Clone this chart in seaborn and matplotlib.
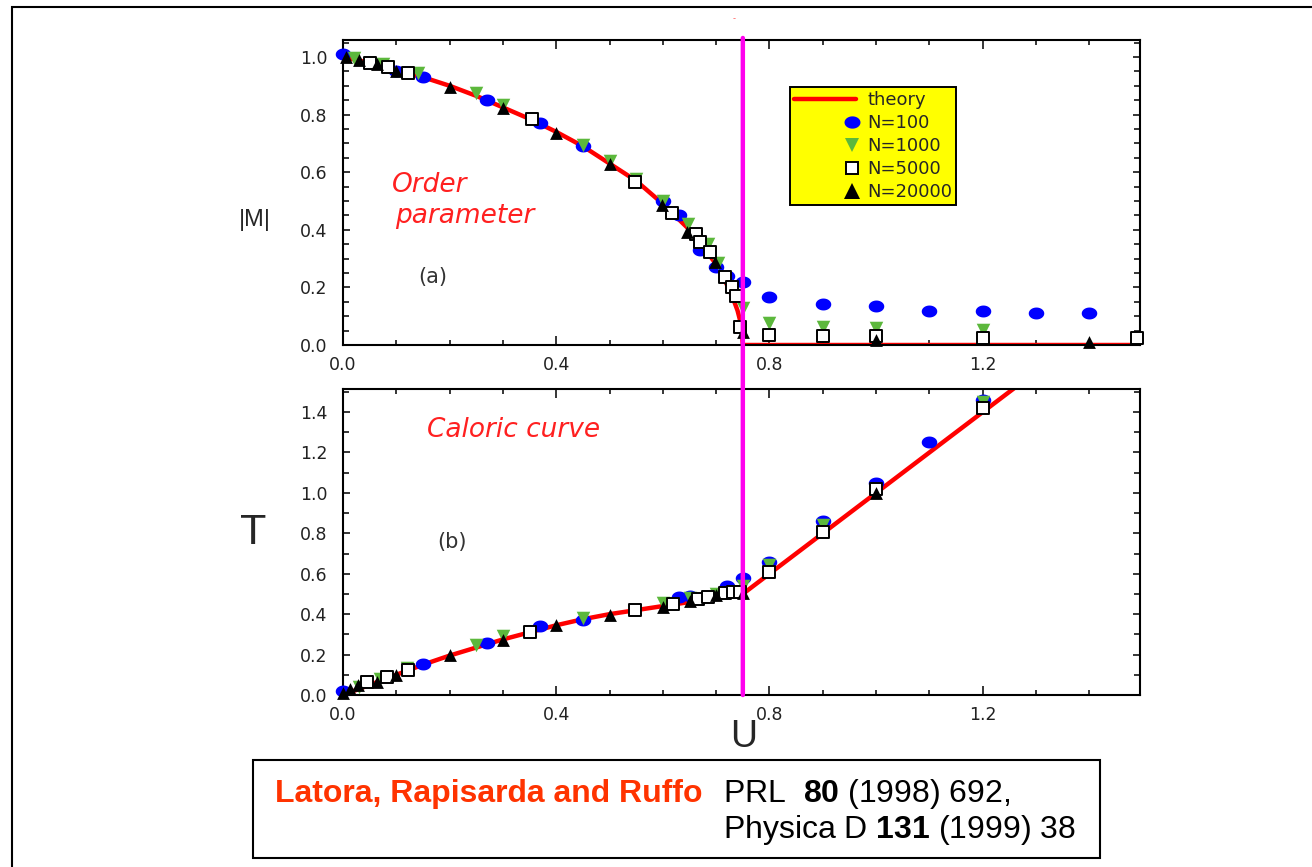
import numpy as np
import pandas as pd
import matplotlib
matplotlib.use("Agg")
import matplotlib.pyplot as plt
import seaborn as sns
from matplotlib.path import Path
from matplotlib.lines import Line2D
from matplotlib.patches import Rectangle, ConnectionPatch
from matplotlib.legend_handler import HandlerLine2DCompound
from matplotlib.ticker import MultipleLocator, FormatStrFormatter

# ---------------- data ----------------
# (a) order parameter |M| vs U
theory_M_U = [0.0, 0.05, 0.1, 0.15, 0.2, 0.25, 0.3, 0.35, 0.4, 0.45, 0.5, 0.55, 0.6,
              0.65, 0.68, 0.7, 0.72, 0.73, 0.74, 0.747, 0.75, 1.5]
theory_M = [1.0, 0.98, 0.95, 0.93, 0.90, 0.865, 0.825, 0.785, 0.74, 0.69, 0.63, 0.57, 0.49,
            0.40, 0.33, 0.28, 0.21, 0.17, 0.12, 0.07, 0.0, 0.0]

n100_M_U = [0.0, 0.05, 0.1, 0.15, 0.27, 0.37, 0.45, 0.6, 0.63, 0.67, 0.7, 0.72, 0.75,
            0.8, 0.9, 1.0, 1.1, 1.2, 1.3, 1.4]
n100_M = [1.01, 0.98, 0.95, 0.93, 0.85, 0.77, 0.69, 0.50, 0.45, 0.33, 0.27, 0.24, 0.22,
          0.167, 0.142, 0.135, 0.118, 0.118, 0.11, 0.11]

n1000_M_U = [0.02, 0.075, 0.14, 0.25, 0.30, 0.45, 0.50, 0.55, 0.60, 0.647, 0.685, 0.703,
             0.75, 0.8, 0.9, 1.0, 1.2]
n1000_M = [0.995, 0.975, 0.945, 0.875, 0.835, 0.695, 0.64, 0.575, 0.50, 0.42, 0.35, 0.284,
           0.13, 0.077, 0.063, 0.06, 0.052]

n5000_M_U = [0.05, 0.085, 0.122, 0.354, 0.548, 0.617, 0.663, 0.67, 0.688, 0.716, 0.729,
             0.738, 0.745, 0.8, 0.9, 1.0, 1.2, 1.49]
n5000_M = [0.98, 0.965, 0.945, 0.785, 0.566, 0.458, 0.385, 0.358, 0.323, 0.236, 0.2,
           0.17, 0.063, 0.035, 0.03, 0.03, 0.025, 0.025]

n20000_M_U = [0.005, 0.03, 0.063, 0.1, 0.2, 0.3, 0.4, 0.5, 0.598, 0.645, 0.697, 0.75, 1.0, 1.4]
n20000_M = [1.0, 0.99, 0.975, 0.95, 0.897, 0.823, 0.737, 0.63, 0.486, 0.393, 0.288, 0.045,
            0.018, 0.01]

# (b) caloric curve T vs U
theory_T_U = [0.0, 0.05, 0.1, 0.15, 0.2, 0.25, 0.3, 0.35, 0.4, 0.45, 0.5, 0.55, 0.6, 0.65,
              0.7, 0.75, 0.8, 1.0, 1.2, 1.26]
theory_T = [0.0, 0.05, 0.10, 0.15, 0.195, 0.235, 0.275, 0.31, 0.345, 0.375, 0.40, 0.42,
            0.44, 0.46, 0.48, 0.50, 0.60, 1.0, 1.4, 1.52]

n100_T_U = [0.0, 0.15, 0.27, 0.37, 0.45, 0.63, 0.65, 0.72, 0.75, 0.8, 0.9, 1.0, 1.1, 1.2]
n100_T = [0.02, 0.155, 0.255, 0.34, 0.37, 0.485, 0.49, 0.54, 0.58, 0.66, 0.86, 1.05, 1.25, 1.46]

n1000_T_U = [0.03, 0.07, 0.12, 0.25, 0.3, 0.45, 0.6, 0.65, 0.7, 0.75, 0.8, 0.9, 1.2]
n1000_T = [0.04, 0.08, 0.135, 0.245, 0.29, 0.38, 0.455, 0.48, 0.5, 0.54, 0.645, 0.84, 1.45]

n5000_T_U = [0.045, 0.082, 0.122, 0.35, 0.548, 0.619, 0.666, 0.684, 0.716, 0.731, 0.744,
             0.8, 0.9, 1.0, 1.2]
n5000_T = [0.064, 0.09, 0.124, 0.313, 0.42, 0.45, 0.475, 0.486, 0.505, 0.51, 0.51,
           0.61, 0.807, 1.02, 1.42]

n20000_T_U = [0.0, 0.013, 0.028, 0.063, 0.1, 0.2, 0.3, 0.4, 0.5, 0.6, 0.65, 0.7, 0.75, 1.0]
n20000_T = [0.01, 0.03, 0.05, 0.065, 0.1, 0.198, 0.27, 0.345, 0.395, 0.437, 0.466, 0.493,
            0.505, 1.0]

U_critical = 0.75
series_labels = ["theory", "N=100", "N=1000", "N=5000", "N=20000"]
x_ticks = [0.0, 0.4, 0.8, 1.2]

# ---------------- style ----------------
sns.set_style("ticks")
plt.rcParams['font.family'] = ['DejaVu Sans']
plt.rcParams['mathtext.fontset'] = 'custom'
plt.rcParams['mathtext.rm'] = 'Liberation Sans'
plt.rcParams['mathtext.bf'] = 'Liberation Sans:bold'

W, H = 1312, 867
fig = plt.figure(figsize=(W / 100, H / 100), dpi=100)
fig.patch.set_facecolor("white")

ax1 = fig.add_axes([343 / W, 1 - 345 / H, 797 / W, 305 / H])
ax2 = fig.add_axes([343 / W, 1 - 695 / H, 797 / W, 306 / H])

BLUE = "#0000ff"
GREEN = "#5cb83c"
RED = "#ff0000"
MAGENTA = "#ff00ee"

th = np.linspace(0, 2 * np.pi, 60)
ellipse = Path(np.column_stack([1.3 * np.cos(th), np.sin(th)]), closed=True)


def draw_panel(ax, tu, tv, s100, s1000, s5000, s20000):
    sns.lineplot(x=tu, y=tv, sort=False, estimator=None, color=RED, lw=3.2, ax=ax, zorder=2)
    sns.scatterplot(x=s100[0], y=s100[1], marker=ellipse, s=125, color=BLUE,
                    edgecolor=BLUE, linewidth=0, ax=ax, zorder=3, clip_on=False)
    sns.scatterplot(x=s1000[0], y=s1000[1], marker="v", s=95, color=GREEN,
                    edgecolor=GREEN, linewidth=0, ax=ax, zorder=4, clip_on=False)
    sns.scatterplot(x=s5000[0], y=s5000[1], marker="s", s=72, color="white",
                    edgecolor="black", linewidth=1.4, ax=ax, zorder=5, clip_on=False)
    sns.scatterplot(x=s20000[0], y=s20000[1], marker="^", s=85, color="black",
                    edgecolor="black", linewidth=0, ax=ax, zorder=6, clip_on=False)


draw_panel(ax1, theory_M_U, theory_M, (n100_M_U, n100_M), (n1000_M_U, n1000_M),
           (n5000_M_U, n5000_M), (n20000_M_U, n20000_M))
draw_panel(ax2, theory_T_U, theory_T, (n100_T_U, n100_T), (n1000_T_U, n1000_T),
           (n5000_T_U, n5000_T), (n20000_T_U, n20000_T))

ax1.set_xlim(0, 1.495)
ax2.set_xlim(0, 1.495)
ax1.set_ylim(0, 1.059)
ax2.set_ylim(0, 1.514)

for ax, ymin in ((ax1, 0.05), (ax2, 0.1)):
    ax.set_xticks(x_ticks)
    ax.xaxis.set_minor_locator(MultipleLocator(0.1))
    ax.yaxis.set_major_locator(MultipleLocator(0.2))
    ax.yaxis.set_minor_locator(MultipleLocator(ymin))
    ax.xaxis.set_major_formatter(FormatStrFormatter('%.1f'))
    ax.yaxis.set_major_formatter(FormatStrFormatter('%.1f'))
    ax.tick_params(which='both', direction='in', top=True, right=True, colors='black',
                   width=1.1, labelsize=12.5, labelcolor='#222222')
    ax.tick_params(axis='x', which='major', length=6.5, pad=8)
    ax.tick_params(axis='x', which='minor', length=3.3)
    ax.tick_params(axis='y', which='major', length=5, pad=11)
    ax.tick_params(axis='y', which='minor', length=4)
    for sp in ax.spines.values():
        sp.set_linewidth(1.5)
        sp.set_color('black')
    ax.set_xlabel("")
    ax.set_ylabel("")

# axis labels
ax1.set_ylabel("|M|", rotation=0, fontsize=17, family=['Liberation Sans'], va='center', ha='center')
ax1.yaxis.set_label_coords(-0.110, 0.41)
ax2.set_ylabel("T", rotation=0, fontsize=31, family=['Liberation Sans'], va='center', ha='center')
ax2.yaxis.set_label_coords(-0.113, 0.529)
ax2.set_xlabel("U", fontsize=27, family=['Liberation Sans'], va='center', ha='center')
ax2.xaxis.set_label_coords(0.503, -0.137)

# panel annotations
ax1.text(0.092, 0.531, "Order", color="#ff2020", style='italic', fontsize=19, va='baseline')
ax1.text(0.0975, 0.424, "parameter", color="#ff2020", style='italic', fontsize=19, va='baseline')
ax1.text(0.169, 0.236, "(a)", color="#333333", fontsize=15, va='center', ha='center')
ax2.text(0.1575, 1.31, "Caloric curve", color="#ff2020", style='italic', fontsize=19, va='center')
ax2.text(0.204, 0.757, "(b)", color="#333333", fontsize=15, va='center', ha='center')

# critical energy line spanning both panels
con = ConnectionPatch(xyA=(U_critical, 1.066), coordsA=ax1.transData,
                      xyB=(U_critical, 0.0), coordsB=ax2.transData,
                      color=MAGENTA, lw=3.2, zorder=20)
fig.add_artist(con)


# legend: line handle spans the box, markers sit at the right end of the handle
class RightMarker(HandlerLine2DCompound):
    def get_xdata(self, legend, xdescent, ydescent, width, height, fontsize):
        xdata = np.array([-xdescent, width])
        return xdata, np.array([0.93 * width])


handles = [
    Line2D([], [], color=RED, lw=3.2),
    Line2D([], [], ls='none', marker=ellipse, ms=11.5, mfc=BLUE, mec=BLUE, mew=0),
    Line2D([], [], ls='none', marker='v', ms=10.5, mfc=GREEN, mec=GREEN, mew=0),
    Line2D([], [], ls='none', marker='s', ms=9, mfc='white', mec='black', mew=1.4),
    Line2D([], [], ls='none', marker='^', ms=11, mfc='black', mec='black', mew=0),
]
hmap = {h: RightMarker() for h in handles[1:]}
leg = ax1.legend(handles, series_labels, handler_map=hmap, loc='upper left',
                 bbox_to_anchor=(790 / W, 1 - 87 / H), bbox_transform=fig.transFigure,
                 borderaxespad=0, fontsize=13, handlelength=3.45, handletextpad=0.6,
                 labelspacing=0.28, borderpad=0.22, fancybox=False, framealpha=1,
                 facecolor='#ffff00', edgecolor='black')
leg.get_frame().set_linewidth(1.4)
leg.set_zorder(30)

# outer frame of the slide
fig.add_artist(Rectangle((12 / W, -0.2), 2.0, (H - 7) / H + 0.2, transform=fig.transFigure,
                         fill=False, edgecolor='black', lw=1.5))
fig.text(734 / W, 1 - 19 / H, "-", color="#ff6060", fontsize=6, ha='center', va='center')

# citation box
fig.add_artist(Rectangle((253 / W, 1 - 858 / H), 847 / W, 98 / H, transform=fig.transFigure,
                         fill=False, edgecolor='black', lw=1.5))
fig.text(275 / W, 1 - 802 / H, "Latora, Rapisarda and Ruffo", color="#ff3300",
         fontsize=23, fontweight='bold', family=['Liberation Sans'], va='baseline')
fig.text(723 / W, 1 - 802 / H, r"PRL  $\mathbf{80}$ (1998) 692,", color="black",
         fontsize=23, family=['Liberation Sans'], va='baseline')
fig.text(723 / W, 1 - 838 / H, r"Physica D $\mathbf{131}$ (1999) 38", color="black",
         fontsize=23, family=['Liberation Sans'], va='baseline')

fig.savefig("out.png", dpi=100)
